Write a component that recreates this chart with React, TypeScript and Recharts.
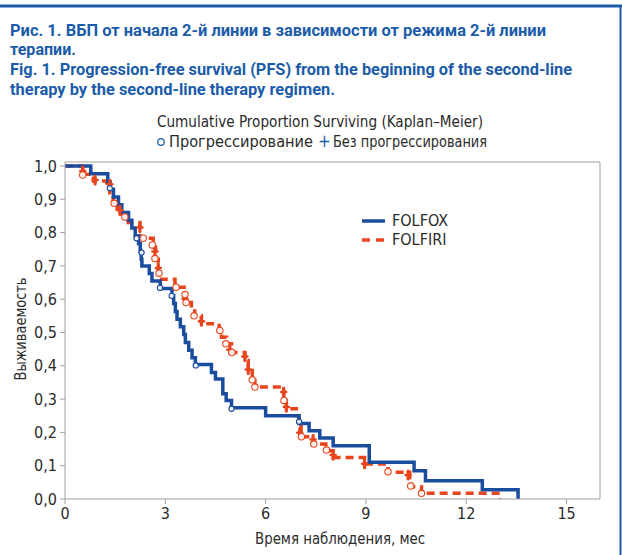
import React from 'react';
import { ComposedChart, Line, Scatter, XAxis, YAxis, ReferenceLine, Legend } from 'recharts';

// FOLFOX (blue, solid) Kaplan–Meier steps
const folfoxMonths = [0, 0.77, 1.28, 1.35, 1.45, 1.6, 1.7, 1.9, 2.0, 2.1, 2.2, 2.25, 2.28, 2.3, 2.52, 2.6, 2.85, 3.2, 3.25, 3.3, 3.35, 3.45, 3.55, 3.6, 3.7, 3.8, 3.9, 4.38, 4.5, 4.72, 4.82, 4.98, 6.0, 7.0, 7.3, 7.62, 8.02, 9.1, 10.44, 10.78, 12.48, 13.55];
const folfoxValues = [1.0, 0.977, 0.953, 0.93, 0.907, 0.884, 0.86, 0.837, 0.814, 0.79, 0.767, 0.744, 0.72, 0.70, 0.677, 0.655, 0.632, 0.61, 0.587, 0.563, 0.54, 0.517, 0.494, 0.47, 0.447, 0.424, 0.404, 0.38, 0.36, 0.316, 0.296, 0.274, 0.25, 0.227, 0.205, 0.183, 0.16, 0.11, 0.085, 0.055, 0.028, 0.0];

// FOLFIRI (red, dashed) Kaplan–Meier steps
const folfiriMonths = [0, 0.53, 0.85, 1.25, 1.34, 1.44, 1.56, 1.69, 1.79, 1.89, 2.24, 2.64, 2.71, 2.79, 3.29, 3.56, 3.61, 3.78, 3.88, 4.08, 4.61, 4.68, 4.83, 4.98, 5.38, 5.48, 5.6, 5.68, 6.54, 6.62, 6.92, 7.0, 7.06, 7.42, 7.8, 8.02, 8.96, 9.66, 10.31, 10.36, 10.66, 13.0];
const folfiriValues = [1.0, 0.975, 0.955, 0.94, 0.92, 0.89, 0.87, 0.855, 0.843, 0.83, 0.783, 0.757, 0.72, 0.66, 0.636, 0.61, 0.59, 0.57, 0.55, 0.526, 0.506, 0.486, 0.466, 0.44, 0.416, 0.386, 0.356, 0.336, 0.296, 0.271, 0.25, 0.227, 0.187, 0.165, 0.145, 0.125, 0.105, 0.08, 0.057, 0.037, 0.017, 0.0];

// Circle markers (Прогрессирование)
const folfiriCircleMonths = [0.53, 1.47, 1.79, 2.34, 2.61, 2.69, 2.81, 3.32, 3.59, 3.62, 3.86, 4.63, 4.81, 4.99, 5.6, 5.68, 6.55, 7.07, 7.44, 7.82, 9.66, 10.34, 10.66];
const folfiriCircleValues = [0.973, 0.888, 0.847, 0.783, 0.763, 0.722, 0.678, 0.636, 0.614, 0.59, 0.55, 0.506, 0.466, 0.44, 0.358, 0.336, 0.296, 0.187, 0.165, 0.147, 0.082, 0.039, 0.017];
const folfoxCircleMonths = [1.34, 2.14, 2.29, 2.84, 3.19, 3.91, 4.98, 7.0];
const folfoxCircleValues = [0.933, 0.783, 0.74, 0.634, 0.61, 0.401, 0.271, 0.232];

// Plus markers (Без прогрессирования), FOLFIRI
const folfiriPlusMonths = [0.53, 0.9, 1.34, 1.64, 2.24, 2.69, 2.79, 3.59, 4.08, 4.93, 5.38, 5.48, 6.54, 6.62, 7.02, 7.42, 8.02, 8.96, 10.26];
const folfiriPlusValues = [0.985, 0.958, 0.945, 0.867, 0.815, 0.743, 0.694, 0.601, 0.534, 0.448, 0.428, 0.389, 0.321, 0.276, 0.199, 0.179, 0.132, 0.106, 0.072];

const xTicks = [0, 3, 6, 9, 12, 15];
const yTicks = [0, 0.1, 0.2, 0.3, 0.4, 0.5, 0.6, 0.7, 0.8, 0.9, 1.0];

const seriesNames = ['FOLFOX', 'FOLFIRI'];

const titleLines = [
  'Рис. 1. ВБП от начала 2-й линии в зависимости от режима 2-й линии',
  'терапии.',
  'Fig. 1. Progression-free survival (PFS) from the beginning of the second-line',
  'therapy by the second-line therapy regimen.',
];
const subtitle = 'Cumulative Proportion Surviving (Kaplan–Meier)';
const markerLabels = ['Прогрессирование', 'Без прогрессирования'];
const xLabel = 'Время наблюдения, мес';
const yLabel = 'Выживаемость';

const BLUE = '#1a4d9e';
const RED = '#e8451d';
const TITLE_BLUE = '#1b5ca8';
const AXIS = '#a0a0a0';
const TEXT = '#2b2b2b';
const NARROW = "'Liberation Sans Narrow', 'DejaVu Sans Condensed', 'Roboto', sans-serif";

const zip = (xs: number[], ys: number[]) => xs.map((x, i) => ({ x, y: ys[i] }));
const folfoxData = zip(folfoxMonths, folfoxValues);
const folfiriData = zip(folfiriMonths, folfiriValues);
const folfiriCircles = zip(folfiriCircleMonths, folfiriCircleValues);
const folfoxCircles = zip(folfoxCircleMonths, folfoxCircleValues);
const folfiriPluses = zip(folfiriPlusMonths, folfiriPlusValues);

const fmt = (v: number) => v.toFixed(1).replace('.', ',');

const HollowCircle = (color: string, r: number) => (props: any) => {
  const { cx, cy } = props;
  if (cx == null || cy == null) return <g />;
  return <circle cx={cx} cy={cy} r={r} fill="#fff" fillOpacity={0.9} stroke={color} strokeWidth={1.1} />;
};

const PlusMark = (color: string) => (props: any) => {
  const { cx, cy } = props;
  if (cx == null || cy == null) return <g />;
  return (
    <g stroke={color} strokeLinecap="round">
      <line x1={cx} y1={cy - 4} x2={cx} y2={cy + 4} strokeWidth={3.2} />
      <line x1={cx - 2.5} y1={cy} x2={cx + 2.5} y2={cy} strokeWidth={2.5} />
    </g>
  );
};

const LegendContent = () => (
  <div style={{ fontFamily: NARROW, fontSize: 16, color: TEXT, lineHeight: '19px' }}>
    {seriesNames.map((name, i) => (
      <div key={name} style={{ display: 'flex', alignItems: 'center', height: 19 }}>
        <svg width={30} height={10} style={{ display: 'block' }}>
          <line x1={0} y1={5} x2={23} y2={5} stroke={i === 0 ? BLUE : RED} strokeWidth={3.5}
            strokeDasharray={i === 0 ? undefined : '8 6'} />
        </svg>
        <span>{name}</span>
      </div>
    ))}
  </div>
);

export default function App() {
  return (
    <div style={{ position: 'absolute', left: 0, top: 0, width: 622, height: 555, background: '#fff', overflow: 'hidden' }}>
      <ComposedChart width={622} height={555} margin={{ top: 162, right: 22, bottom: 0, left: 0 }}>
        <XAxis type="number" dataKey="x" domain={[0, 16]} ticks={xTicks} allowDataOverflow
          height={56} stroke={AXIS} tickSize={5} tickMargin={4}
          tick={{ fill: TEXT, fontSize: 16, fontFamily: NARROW }} />
        <YAxis type="number" dataKey="y" domain={[0, 1.012]} ticks={yTicks} allowDataOverflow
          width={65} stroke={AXIS} tickSize={5} tickMargin={3} tickFormatter={fmt}
          tick={{ fill: TEXT, fontSize: 16, fontFamily: NARROW }} />
        <ReferenceLine x={16} stroke={AXIS} strokeWidth={1} />
        <ReferenceLine y={1.012} stroke={AXIS} strokeWidth={1} />
        <Line data={folfiriData} dataKey="y" type="stepAfter" stroke={RED} strokeWidth={3.5}
          strokeDasharray="8 5" dot={false} isAnimationActive={false} name="FOLFIRI" />
        <Line data={folfoxData} dataKey="y" type="stepAfter" stroke={BLUE} strokeWidth={3.5}
          dot={false} isAnimationActive={false} name="FOLFOX" />
        <Scatter data={folfiriPluses} dataKey="y" shape={PlusMark(RED)} isAnimationActive={false} />
        <Scatter data={folfiriCircles} dataKey="y" shape={HollowCircle(RED, 3.2)} isAnimationActive={false} />
        <Scatter data={folfoxCircles} dataKey="y" shape={HollowCircle(BLUE, 2.6)} isAnimationActive={false} />
        <Legend layout="vertical" align="center" verticalAlign="middle" content={LegendContent}
          wrapperStyle={{ left: 362, top: 211, width: 110, height: 40 }} />
      </ComposedChart>
      <svg width={622} height={555} style={{ position: 'absolute', left: 0, top: 0, pointerEvents: 'none' }}>
        <line x1={0} y1={6} x2={622} y2={6} stroke={TITLE_BLUE} strokeWidth={3} />
        <line x1={620.5} y1={6} x2={620.5} y2={555} stroke={TITLE_BLUE} strokeWidth={2} />
        <g fontFamily="'Roboto', 'DejaVu Sans', sans-serif" fontWeight={700} fontSize={17} fill={TITLE_BLUE}>
          <text x={10} y={36} textLength={536} lengthAdjust="spacingAndGlyphs">{titleLines[0]}</text>
          <text x={10} y={55} textLength={66} lengthAdjust="spacingAndGlyphs">{titleLines[1]}</text>
          <text x={10} y={75} textLength={562} lengthAdjust="spacingAndGlyphs">{titleLines[2]}</text>
          <text x={10} y={95} textLength={325} lengthAdjust="spacingAndGlyphs">{titleLines[3]}</text>
        </g>
        <g fontFamily={NARROW} fontSize={15.5} fill={TEXT}>
          <text x={157} y={127} textLength={326} lengthAdjust="spacingAndGlyphs">{subtitle}</text>
          <circle cx={161} cy={142} r={3.3} fill="none" stroke={TITLE_BLUE} strokeWidth={1.2} />
          <text x={169} y={147} textLength={144} lengthAdjust="spacingAndGlyphs">{markerLabels[0]}</text>
          <text x={318} y={147} fill={TITLE_BLUE} fontSize={17}>+</text>
          <text x={333} y={147} textLength={154} lengthAdjust="spacingAndGlyphs">{markerLabels[1]}</text>
        </g>
        <g fontFamily={NARROW} fontSize={16} fill={TEXT}>
          <text x={340} y={544} textAnchor="middle" textLength={170} lengthAdjust="spacingAndGlyphs">{xLabel}</text>
          <text x={26} y={329} textAnchor="middle" transform="rotate(-90 26 329)" textLength={103} lengthAdjust="spacingAndGlyphs">{yLabel}</text>
        </g>
      </svg>
    </div>
  );
}
